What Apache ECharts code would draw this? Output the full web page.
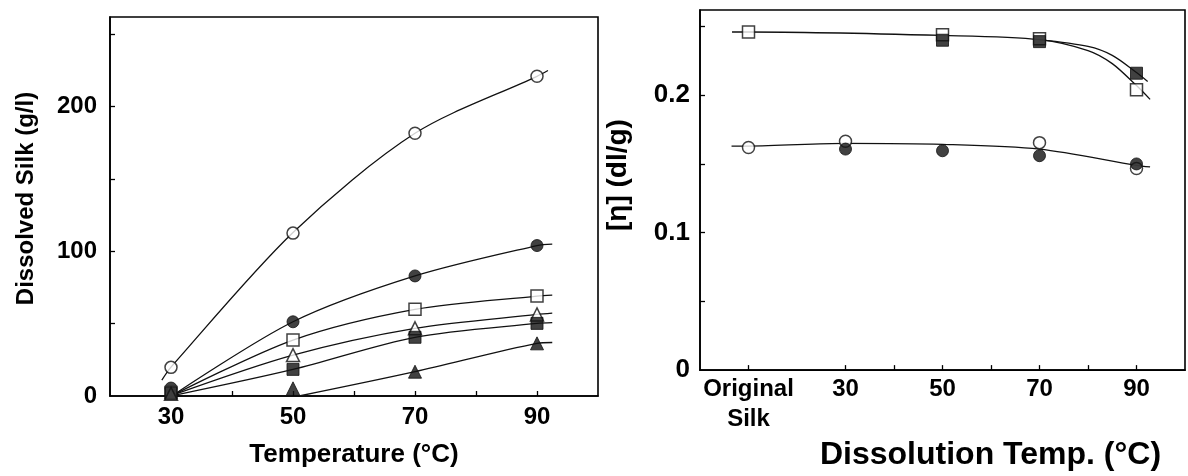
<!DOCTYPE html>
<html>
<head>
<meta charset="utf-8">
<script src="https://cdn.jsdelivr.net/npm/echarts@6/dist/echarts.min.js"></script>
<style>
  html, body { margin: 0; padding: 0; background: #fff; }
  #main { width: 1188px; height: 476px; }
</style>
</head>
<body>
<div id="main"></div>
<script>
// left panel: dissolved silk vs temperature
var leftTemps = [30, 50, 70, 90];
var leftOpenCircle = [19.8, 112.6, 181.6, 221];
var leftFilledCircle = [5.5, 51.3, 83, 104];
var leftOpenSquare = [2.5, 38.7, 59.9, 69.1];
var leftOpenTriangle = [1.5, 28.3, 46.8, 56.4];
var leftFilledSquare = [1.8, 18.4, 40.6, 50.2];
var leftTriTemps = [50, 70, 90];
var leftFilledTriangle = [5.3, 16.8, 36.4];

// fitted curves, [temp, value]
var fitOpenCircle = [[28.5, 11], [30, 20], [50, 113], [70, 181.6], [90, 221], [91.8, 225]];
var fitFilledCircle = [[30.5, 1], [50, 51.3], [70, 83], [90, 104], [92.5, 105]];
var fitOpenSquare = [[30.5, 1], [50, 38.7], [70, 59.9], [90, 69.1], [92.5, 69.8]];
var fitOpenTriangle = [[30.5, 1], [50, 28.3], [70, 46.8], [90, 56.4], [92.5, 57.3]];
var fitFilledSquare = [[30.5, 0.5], [50, 18.4], [70, 40.6], [90, 50.2], [92.5, 50.7]];
var fitFilledTriangle = [[51, 0], [70, 16.8], [90, 36.4], [92.5, 37]];

// right panel: intrinsic viscosity vs dissolution temperature (Original Silk placed at 10)
var rightLabels = {10: 'Original\nSilk', 30: '30', 50: '50', 70: '70', 90: '90'};
var rOpenSquareX = [10, 50, 70, 90];
var rOpenSquare = [0.246, 0.244, 0.241, 0.204];
var rFilledSquareX = [50, 70, 90];
var rFilledSquare = [0.240, 0.239, 0.216];
var rOpenCircleX = [10, 30, 70, 90];
var rOpenCircle = [0.162, 0.1665, 0.1655, 0.1467];
var rFilledCircleX = [30, 50, 70, 90];
var rFilledCircle = [0.1608, 0.1596, 0.156, 0.150];

var fitROpenSquare = [[6.6, 0.246], [10, 0.246], [50, 0.2435], [70, 0.2405], [80, 0.2325], [85, 0.223], [90, 0.207], [92.8, 0.197]];
var fitRFilledSquare = [[70, 0.2405], [80, 0.2355], [85, 0.229], [90, 0.2165], [92.3, 0.210]];
var fitRCircle = [[6.5, 0.163], [10, 0.163], [30, 0.165], [50, 0.1643], [70, 0.1608], [90, 0.149], [92.8, 0.1478]];

var FONT = "'Liberation Sans', Arial, Helvetica, sans-serif";
var INK = '#000';

function zip(xs, ys) {
  return xs.map(function (x, i) { return [x, ys[i]]; });
}

function fitLine(data, xi, yi) {
  return {
    type: 'line', xAxisIndex: xi, yAxisIndex: yi, data: data,
    smooth: 0.3, showSymbol: false, symbol: 'none', z: 2,
    lineStyle: { color: '#111', width: 1.3 }
  };
}

function marks(data, xi, yi, shape, filled) {
  return {
    type: 'scatter', xAxisIndex: xi, yAxisIndex: yi, data: data,
    symbol: shape, symbolSize: shape === 'triangle' ? 13 : 12, z: 5,
    itemStyle: filled
      ? { color: '#111', borderColor: '#111', borderWidth: 1 }
      : { color: '#fff', borderColor: '#111', borderWidth: 1.5 }
  };
}

var tickStyle = { show: true, inside: true, length: 5, lineStyle: { color: INK, width: 1.3 } };
var lineStyle = { show: true, lineStyle: { color: INK, width: 1.6 } };

var chart = echarts.init(document.getElementById('main'));
chart.setOption({
  animation: false,
  backgroundColor: '#fff',
  grid: [
    { left: 110, right: 590, top: 17, bottom: 80, show: true, borderColor: INK, borderWidth: 1.6 },
    { left: 700, right: 3, top: 10, bottom: 95, show: true, borderColor: INK, borderWidth: 1.6 }
  ],
  xAxis: [
    {
      gridIndex: 0, type: 'value', min: 20, max: 100, interval: 10,
      axisLine: lineStyle, splitLine: { show: false },
      axisTick: Object.assign({ customValues: [30, 40, 50, 60, 70, 80, 90] }, tickStyle),
      axisLabel: { customValues: [30, 50, 70, 90], margin: 9, color: INK, fontFamily: FONT, fontWeight: 'bold', fontSize: 24 },
      name: 'Temperature (°C)', nameLocation: 'middle', nameGap: 46,
      nameTextStyle: { color: INK, fontFamily: FONT, fontWeight: 'bold', fontSize: 26 }
    },
    {
      gridIndex: 1, type: 'value', min: 0, max: 100, interval: 10,
      axisLine: lineStyle, splitLine: { show: false },
      axisTick: Object.assign({ customValues: [10, 30, 40, 50, 60, 70, 80, 90] }, tickStyle),
      axisLabel: {
        customValues: [10, 30, 50, 70, 90], margin: 4, lineHeight: 30,
        color: INK, fontFamily: FONT, fontWeight: 'bold', fontSize: 24,
        formatter: function (v) { return rightLabels[v] || ''; }
      },
      name: 'Dissolution Temp. (°C)', nameLocation: 'middle', nameGap: 61,
      nameTextStyle: { color: INK, fontFamily: FONT, fontWeight: 'bold', fontSize: 32, padding: [0, 0, 0, 96] }
    }
  ],
  yAxis: [
    {
      gridIndex: 0, type: 'value', min: 0, max: 262, interval: 50,
      axisLine: lineStyle, splitLine: { show: false },
      axisTick: Object.assign({ customValues: [50, 100, 150, 200, 250] }, tickStyle),
      axisLabel: { customValues: [0, 100, 200], margin: 13, color: INK, fontFamily: FONT, fontWeight: 'bold', fontSize: 24 },
      name: 'Dissolved Silk (g/l)', nameLocation: 'middle', nameGap: 72,
      nameTextStyle: { color: INK, fontFamily: FONT, fontWeight: 'bold', fontSize: 24, padding: [0, 0, 0, 16] }
    },
    {
      gridIndex: 1, type: 'value', min: 0, max: 0.262, interval: 0.05,
      axisLine: lineStyle, splitLine: { show: false },
      axisTick: Object.assign({ customValues: [0.05, 0.1, 0.15, 0.2, 0.25] }, tickStyle),
      axisLabel: {
        customValues: [0, 0.1, 0.2], margin: 10, color: INK, fontFamily: FONT, fontWeight: 'bold', fontSize: 26,
        formatter: function (v) { return v === 0 ? '0' : v.toFixed(1); }
      },
      name: '[η] (dl/g)', nameLocation: 'middle', nameGap: 68,
      nameTextStyle: { color: INK, fontFamily: FONT, fontWeight: 'bold', fontSize: 28, padding: [0, 0, 0, 30] }
    }
  ],
  series: [
    fitLine(fitOpenCircle, 0, 0),
    fitLine(fitFilledCircle, 0, 0),
    fitLine(fitOpenSquare, 0, 0),
    fitLine(fitOpenTriangle, 0, 0),
    fitLine(fitFilledSquare, 0, 0),
    fitLine(fitFilledTriangle, 0, 0),
    marks(zip(leftTemps, leftOpenCircle), 0, 0, 'circle', false),
    marks(zip(leftTemps, leftFilledCircle), 0, 0, 'circle', true),
    marks(zip(leftTemps, leftOpenSquare), 0, 0, 'rect', false),
    marks(zip(leftTemps, leftOpenTriangle), 0, 0, 'triangle', false),
    marks(zip(leftTemps, leftFilledSquare), 0, 0, 'rect', true),
    marks(zip(leftTriTemps, leftFilledTriangle), 0, 0, 'triangle', true),

    fitLine(fitROpenSquare, 1, 1),
    fitLine(fitRFilledSquare, 1, 1),
    fitLine(fitRCircle, 1, 1),
    marks(zip(rOpenSquareX, rOpenSquare), 1, 1, 'rect', false),
    marks(zip(rFilledSquareX, rFilledSquare), 1, 1, 'rect', true),
    marks(zip(rOpenCircleX, rOpenCircle), 1, 1, 'circle', false),
    marks(zip(rFilledCircleX, rFilledCircle), 1, 1, 'circle', true)
  ]
});
</script>
</body>
</html>
